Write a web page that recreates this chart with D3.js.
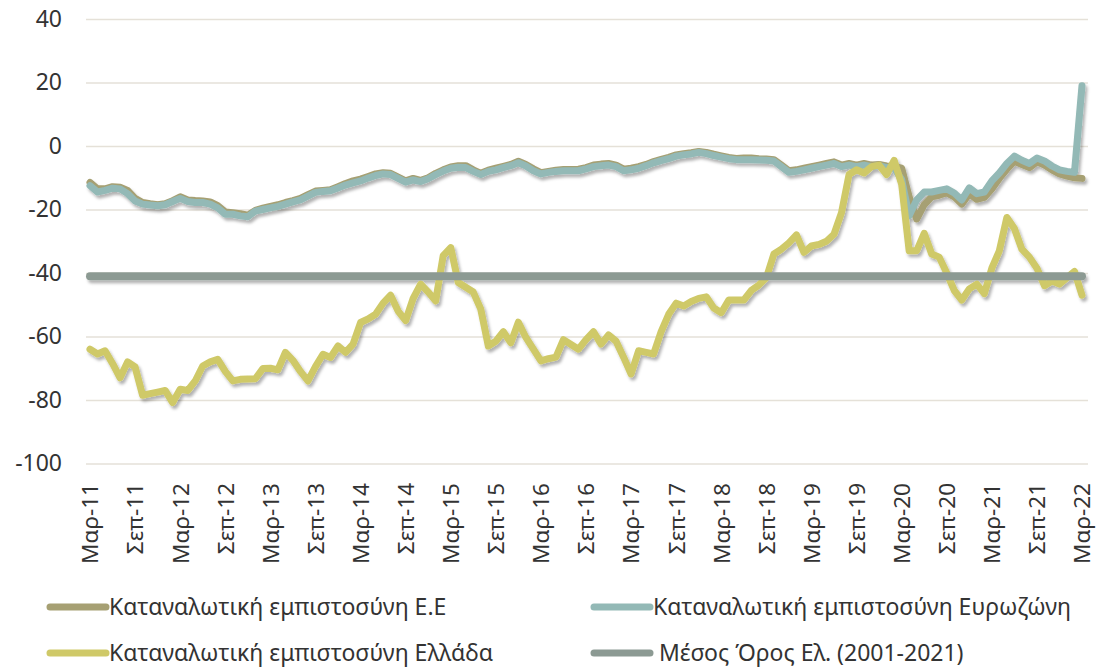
<!DOCTYPE html>
<html>
<head>
<meta charset="utf-8">
<script src="https://cdn.jsdelivr.net/npm/d3@7"></script>
<style>
  body { margin: 0; background: #fff; }
  text { font-family: "Noto Sans", "Open Sans", sans-serif; fill: #333; }
</style>
</head>
<body>
<div id="chart"></div>
<script>
// month labels, Mar-11 .. Mar-22
var monthNames = ["Ιαν","Φεβ","Μαρ","Απρ","Μαϊ","Ιουν","Ιουλ","Αυγ","Σεπ","Οκτ","Νοε","Δεκ"];
var months = [];
for (var k = 0; k < 133; k++) {
  var m = (2 + k) % 12, yr = 11 + Math.floor((2 + k) / 12);
  months.push(monthNames[m] + "-" + yr);
}

var tickLabels = ["Μαρ-11","Σεπ-11","Μαρ-12","Σεπ-12","Μαρ-13","Σεπ-13","Μαρ-14","Σεπ-14",
  "Μαρ-15","Σεπ-15","Μαρ-16","Σεπ-16","Μαρ-17","Σεπ-17","Μαρ-18","Σεπ-18","Μαρ-19","Σεπ-19",
  "Μαρ-20","Σεπ-20","Μαρ-21","Σεπ-21","Μαρ-22"];

var yTicks = [40, 20, 0, -20, -40, -60, -80, -100];

// Καταναλωτική εμπιστοσύνη Ε.Ε
var euValues = [-11.5,-13.5,-13.5,-12.8,-13,-14,-16.5,-17.8,-18.2,-18.5,-18.2,-17.2,-16,-17,-17.2,-17.3,
  -17.6,-18.8,-20.8,-21,-21.3,-21.8,-20.3,-19.6,-19,-18.5,-17.8,-17.2,-16.5,-15.3,-14.2,-14,-13.8,-12.8,
  -11.8,-11,-10.4,-9.6,-8.8,-8.4,-8.6,-9.8,-11,-10.2,-10.8,-10,-8.6,-7.5,-6.6,-6.2,-6.2,-7.5,-8.6,-7.6,
  -7,-6.4,-5.8,-4.8,-5.8,-7.2,-8.4,-8,-7.6,-7.4,-7.4,-7.3,-6.8,-6,-5.7,-5.5,-6,-7.3,-7,-6.5,-5.8,-4.9,
  -4.2,-3.6,-2.8,-2.4,-2.1,-1.7,-2,-2.6,-3.1,-3.6,-3.9,-3.8,-3.8,-4,-4.1,-4.3,-6,-7.8,-7.5,-7,-6.5,-6,
  -5.5,-5,-6,-5.5,-6,-5.5,-6,-5.8,-6.3,-6.4,-7,-16,-23,-18.5,-16,-15.5,-14.8,-16,-18.3,-15,-16.8,-16.2,
  -13.5,-10.2,-7.3,-4.8,-5.8,-6.8,-5,-6,-7.5,-8.8,-9.5,-10,-10.2];

// Καταναλωτική εμπιστοσύνη Ευρωζώνη
var ezValues = [-12.5,-14.5,-14,-13.3,-13.5,-15,-17.3,-18.3,-18.6,-18.8,-18.5,-17.5,-16.5,-17.5,-17.8,
  -17.8,-18.3,-19.5,-21.5,-21.5,-22,-22.3,-20.5,-20,-19.5,-19,-18.3,-17.6,-17,-15.8,-14.6,-14.3,-14.1,
  -13.2,-12.3,-11.6,-11,-10.1,-9.3,-8.8,-9,-10.2,-11.4,-10.7,-11.2,-10.3,-9,-7.9,-7,-6.7,-6.8,-8,-9,-8,
  -7.5,-6.8,-6.2,-5.3,-6.3,-7.8,-8.8,-8.3,-8,-7.8,-7.8,-7.8,-7.2,-6.5,-6.2,-6,-6.5,-7.8,-7.5,-7,-6.2,
  -5.3,-4.6,-4,-3.2,-2.8,-2.5,-2,-2.4,-3,-3.5,-4,-4.3,-4.3,-4.3,-4.4,-4.5,-4.7,-6.5,-8.3,-8,-7.5,-7,
  -6.5,-6,-5.5,-6.5,-6,-6.5,-6,-6.5,-6.2,-6.8,-7,-10.5,-22,-17,-14.5,-14.5,-14,-13.5,-14.8,-17,-13.2,
  -15,-14.5,-11,-8.5,-5.5,-3.2,-4.5,-5.5,-3.8,-4.7,-6.3,-7.5,-8,-8.3,19];

// Καταναλωτική εμπιστοσύνη Ελλάδα
var grValues = [-64,-65.5,-64.5,-68.5,-73,-68,-69.6,-78.5,-78,-77.5,-77,-80.8,-76.6,-77,-74,-69.3,-68,
  -67.2,-71,-74,-73.5,-73.4,-73.3,-70.1,-70,-70.5,-65,-67.5,-71,-74,-69.5,-65.6,-66.6,-63,-65,-62.4,
  -55.6,-54.5,-53,-49.5,-47,-52,-55,-48,-43.5,-46,-48.8,-34.5,-32,-43,-44.5,-46,-51.4,-63,-61.5,-58.5,
  -62,-55.5,-60.3,-64,-67.7,-67,-66.5,-61,-62.5,-64,-61,-58.5,-62.4,-59.5,-61.5,-66.5,-71.8,-64.5,-65,
  -65.5,-58.5,-53,-49.5,-50.4,-49,-48,-47.5,-51,-52.5,-48.5,-48.5,-48.5,-45.5,-43.8,-41.5,-34,-32.5,
  -30.5,-28,-33.5,-31.5,-31,-30,-27.8,-21,-9,-7.5,-8.5,-6.5,-6,-9,-4.5,-12,-33,-33,-27.5,-34,-35,-40,
  -45.5,-48.5,-45,-43.5,-46.5,-38.5,-33,-22.5,-26,-32.5,-35,-38.5,-44,-42.5,-43.5,-41.5,-39.5,-47];

// Μέσος Όρος Ελ. (2001-2021)
var grMean = -41;

var series = [
  { name: "Καταναλωτική εμπιστοσύνη Ε.Ε", values: euValues, color: "#a6a073" },
  { name: "Καταναλωτική εμπιστοσύνη Ευρωζώνη", values: ezValues, color: "#93b9b6" },
  { name: "Καταναλωτική εμπιστοσύνη Ελλάδα", values: grValues, color: "#cfc968" },
  { name: " Μέσος Όρος Ελ. (2001-2021)", values: months.map(function () { return grMean; }), color: "#8c9a93" }
];

var W = 1101, H = 669;
var svg = d3.select("#chart").append("svg")
  .attr("width", W).attr("height", H);

// soft drop shadow like the original
var f = svg.append("defs").append("filter")
  .attr("id", "shadow").attr("x", "-5%").attr("y", "-20%").attr("width", "110%").attr("height", "140%");
f.append("feDropShadow")
  .attr("dx", 2).attr("dy", 3).attr("stdDeviation", 1.6)
  .attr("flood-color", "#000").attr("flood-opacity", 0.3);

var x = d3.scalePoint().domain(months).range([90, 1082]);
var y = d3.scaleLinear().domain([-100, 40]).range([463.5, 19]);

// gridlines + y labels (plain hyphen for negatives, like the original)
var yAxis = svg.append("g")
  .attr("transform", "translate(86,0)")
  .call(d3.axisLeft(y).tickValues(yTicks).tickSize(-1002).tickPadding(24)
    .tickFormat(function (d) { return String(d); }));
yAxis.select(".domain").remove();
yAxis.selectAll(".tick line").attr("stroke", "#e5e1d8").attr("stroke-width", 1.5);
yAxis.selectAll(".tick text").style("font-size", "23px").attr("fill", "#333");

// x labels, rotated
var xAxis = svg.append("g")
  .attr("transform", "translate(0,464)")
  .call(d3.axisBottom(x)
    .tickValues(tickLabels)
    .tickSize(0));
xAxis.select(".domain").remove();
xAxis.selectAll(".tick text")
  .style("font-size", "22.5px")
  .attr("fill", "#333")
  .attr("text-anchor", "end")
  .attr("dy", "0.35em")
  .attr("transform", "translate(0,19) rotate(-90)")
  .attr("x", 0).attr("y", 0);

var line = d3.line()
  .x(function (d, i) { return x(months[i]); })
  .y(function (d) { return y(d); });

svg.append("g").attr("filter", "url(#shadow)")
  .selectAll("path")
  .data(series)
  .enter().append("path")
    .attr("d", function (s) { return line(s.values); })
    .attr("fill", "none")
    .attr("stroke", function (s) { return s.color; })
    .attr("stroke-width", function (s, i) { return i === 3 ? 8 : 7; })
    .attr("stroke-linejoin", "round")
    .attr("stroke-linecap", "round");

// legend
var legPos = [[50, 607], [594, 607], [50, 653], [594, 653]];
var leg = svg.append("g").selectAll("g")
  .data(series)
  .enter().append("g")
    .attr("transform", function (s, i) { return "translate(" + legPos[i][0] + "," + legPos[i][1] + ")"; });
leg.append("line")
  .attr("x1", 0).attr("x2", 56)
  .attr("stroke", function (s) { return s.color; })
  .attr("stroke-width", 7)
  .attr("stroke-linecap", "round");
leg.append("text")
  .attr("x", 59).attr("dy", "0.35em")
  .style("font-size", "23px")
  .style("white-space", "pre")
  .text(function (s) { return s.name; });
</script>
</body>
</html>
